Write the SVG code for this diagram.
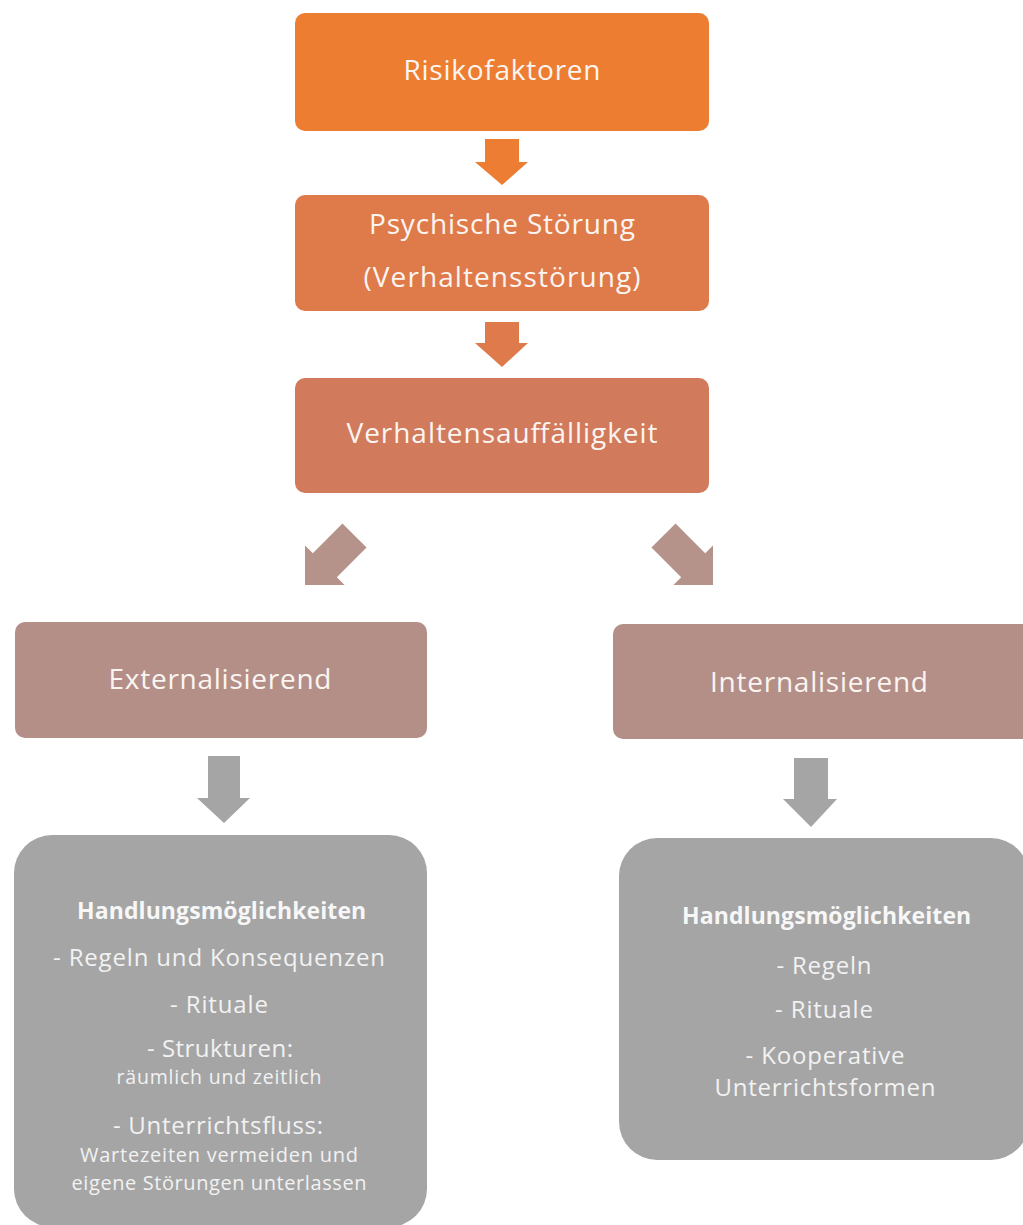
<svg xmlns="http://www.w3.org/2000/svg" width="1023" height="1225" viewBox="0 0 1023 1225">
<style>
  text { font-family: "Open Sans", "Liberation Sans", sans-serif; fill: #FBF5F1; text-anchor: middle; }
  .t28 { font-size: 28px; }
  .b { font-size: 23px; font-weight: bold; letter-spacing: -1.2px; fill: #F7F7F7; }
  .g { font-size: 24px; fill: #F2F2F2; }
  .s { font-size: 20px; fill: #F2F2F2; }
  .s2 { font-size: 19.5px; fill: #F2F2F2; }
</style>
<defs>
  <path id="darr" d="M0,0 L-28,-28 L-17,-28 L-17,-70 L17,-70 L17,-28 L28,-28 Z"/>
</defs>
<rect width="1023" height="1225" fill="#FFFFFF"/>

<g id="connectors">
  <path d="M485,139 L519,139 L519,162 L528,162 L502,185 L475,162 L485,162 Z" fill="#EC7D33"/>
  <path d="M485,322 L519,322 L519,343 L528,343 L502,367 L475,343 L485,343 Z" fill="#DE7A4B"/>
  <use href="#darr" transform="translate(305,585) rotate(45)" fill="#B5928A"/>
  <use href="#darr" transform="translate(713,585) rotate(-45)" fill="#B5928A"/>
  <path d="M208,756 L240,756 L240,798 L250,798 L224,823 L197,798 L208,798 Z" fill="#A5A5A5"/>
  <path d="M794,758 L828,758 L828,799 L837,799 L811,827 L783,799 L794,799 Z" fill="#A5A5A5"/>
</g>

<g id="risikofaktoren">
  <rect x="295" y="13" width="414" height="118" rx="10" fill="#ED7D31"/>
  <text class="t28" x="502" y="80" textLength="197">Risikofaktoren</text>
</g>

<g id="psychische-stoerung">
  <rect x="295" y="195" width="414" height="116" rx="10" fill="#DF7A4A"/>
  <text class="t28" x="502" y="234" textLength="266">Psychische Störung</text>
  <text class="t28" x="502" y="287" textLength="277">(Verhaltensstörung)</text>
</g>

<g id="verhaltensauffaelligkeit">
  <rect x="295" y="378" width="414" height="115" rx="10" fill="#D17A5C"/>
  <text class="t28" x="502" y="443" textLength="311">Verhaltensauffälligkeit</text>
</g>

<g id="externalisierend">
  <rect x="15" y="622" width="412" height="116" rx="10" fill="#B48F88"/>
  <text class="t28" x="220" y="689" textLength="223">Externalisierend</text>
</g>

<g id="internalisierend">
  <rect x="613" y="624" width="420" height="115" rx="10" fill="#B48F88"/>
  <text class="t28" x="819" y="692" textLength="218">Internalisierend</text>
</g>

<g id="handlung-extern">
  <rect x="14" y="835" width="413" height="392" rx="38" fill="#A5A5A5"/>
  <text class="b" x="221" y="919" textLength="288">Handlungsmöglichkeiten</text>
  <text class="g" x="219" y="966" textLength="332">- Regeln und Konsequenzen</text>
  <text class="g" x="219" y="1013" textLength="98">- Rituale</text>
  <text class="g" x="220" y="1057" textLength="146">- Strukturen:</text>
  <text class="s2" x="219" y="1084" textLength="205">räumlich und zeitlich</text>
  <text class="g" x="218" y="1134" textLength="210">- Unterrichtsfluss:</text>
  <text class="s" x="219" y="1162" textLength="278">Wartezeiten vermeiden und</text>
  <text class="s" x="219" y="1190" textLength="295">eigene Störungen unterlassen</text>
</g>

<g id="handlung-intern">
  <rect x="619" y="838" width="410" height="322" rx="38" fill="#A5A5A5"/>
  <text class="b" x="826" y="924" textLength="288">Handlungsmöglichkeiten</text>
  <text class="g" x="824" y="974" textLength="95">- Regeln</text>
  <text class="g" x="824" y="1018" textLength="98">- Rituale</text>
  <text class="g" x="825" y="1064" textLength="159">- Kooperative</text>
  <text class="g" x="825" y="1096" textLength="221">Unterrichtsformen</text>
</g>
</svg>
